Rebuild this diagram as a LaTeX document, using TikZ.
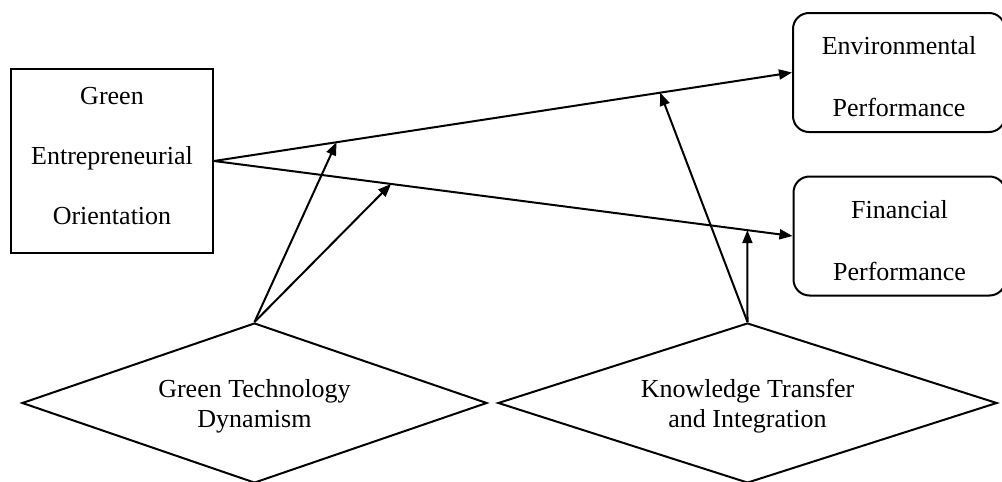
\documentclass[tikz,border=0pt]{standalone}
\usepackage{fontspec}
\setmainfont{Liberation Serif}
\usetikzlibrary{shapes.geometric,arrows.meta,calc}
\tikzset{
    square-box/.style = {draw, rectangle, line width=1pt, minimum width=101pt, minimum height=92pt, text depth=5pt, align=center, font=\fontsize{13}{30}\selectfont},
    rounded-box/.style = {draw, rectangle, rounded corners=8pt, line width=1pt, minimum width=106pt, minimum height=59.5pt, text height=44pt, text depth=0pt, align=center, font=\fontsize{13}{31}\selectfont},
    moderator/.style = {draw, diamond, line width=1pt, aspect=3, minimum height=80pt, text depth=-3pt, align=center, font=\fontsize{13}{15}\selectfont},
    path-arrow/.style = {line width=1pt, -{Triangle[length=6.5pt,width=5pt]}},
}
\begin{document}
\begin{tikzpicture}[x=0.5pt,y=-0.5pt]
\useasboundingbox (0,0) rectangle (1002,482);
\node [square-box] (geo) at (112,161) {Green\\Entrepreneurial\\Orientation};
\node [rounded-box] (env) at (899,72.5) {Environmental\\Performance};
\node [rounded-box] (fin) at (899.5,236) {Financial\\Performance};
\node [moderator, minimum width=232.5pt] (gtd) at (254.5,403) {Green Technology\\Dynamism};
\node [moderator, minimum width=249.5pt] (kti) at (747.5,403) {Knowledge Transfer\\and Integration};
\draw [path-arrow] (geo.east) -- (env.west);
\draw [path-arrow] (geo.east) -- (fin.west);
\draw [path-arrow] (gtd.north) -- ($(geo.east)!0.212!(env.west)$);
\draw [path-arrow] (gtd.north) -- ($(geo.east)!0.306!(fin.west)$);
\draw [path-arrow] (kti.north) -- ($(geo.east)!0.772!(env.west)$);
\draw [path-arrow] (kti.north) -- ($(geo.east)!0.922!(fin.west)$);
\end{tikzpicture}
\end{document}
